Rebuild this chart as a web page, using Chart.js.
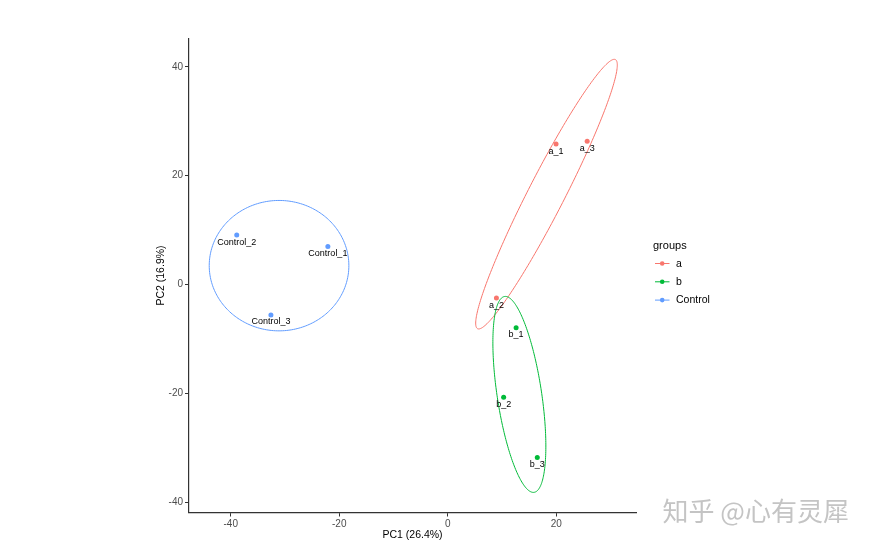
<!DOCTYPE html>
<html>
<head>
<meta charset="utf-8">
<script src="https://cdn.jsdelivr.net/npm/chart.js@4/dist/chart.umd.min.js"></script>
<style>
html,body{margin:0;padding:0;background:#fff;}
#wrap{width:871px;height:545px;}
</style>
</head>
<body>
<div id="wrap"><canvas id="c" width="871" height="545"></canvas></div>
<script>
// ---- data ----
const groups = ['a', 'b', 'Control'];
const groupColors = ['#F8766D', '#00BA38', '#619CFF'];
const sampleNames = ['a_1', 'a_2', 'a_3', 'b_1', 'b_2', 'b_3', 'Control_1', 'Control_2', 'Control_3'];
const sampleGroup = ['a', 'a', 'a', 'b', 'b', 'b', 'Control', 'Control', 'Control'];
const pc1 = [19.96, 8.97, 25.7, 12.6, 10.3, 16.5, -22.1, -38.9, -32.6];
const pc2 = [25.8, -2.5, 26.3, -7.97, -20.7, -31.8, 7.0, 9.07, -5.6];
// ellipse per group: centre, semi-axes, rotation (degrees) in data units
const ellCx = [18.2, 13.2, -31.1];
const ellCy = [16.6, -20.2, 3.46];
const ellA = [27.8, 18.2, 12.87];
const ellB = [3.35, 4.1, 11.98];
const ellAngle = [62.8, 98.6, 0];
const xTicks = [-40, -20, 0, 20];
const yTicks = [-40, -20, 0, 20, 40];
const xLabel = 'PC1 (26.4%)';
const yLabel = 'PC2 (16.9%)';
const legendTitle = 'groups';
const watermark = '知乎 @心有灵犀';

const FONT = "'Liberation Sans', Arial, sans-serif";

const datasets = groups.map((g, gi) => ({
  label: g,
  data: pc1.map((x, i) => ({x: x, y: pc2[i], name: sampleNames[i]})).filter((p, i) => sampleGroup[i] === g),
  backgroundColor: groupColors[gi],
  borderColor: groupColors[gi],
  pointRadius: 2.5,
  pointBorderWidth: 0,
  showLine: false
}));

const overlay = {
  id: 'overlay',
  beforeDatasetsDraw(chart) {
    const ctx = chart.ctx, xs = chart.scales.x, ys = chart.scales.y;
    ctx.save();
    groups.forEach((g, gi) => {
      const th = ellAngle[gi] * Math.PI / 180;
      ctx.beginPath();
      for (let k = 0; k <= 240; k++) {
        const t = k / 240 * 2 * Math.PI;
        const dx = ellA[gi] * Math.cos(t), dy = ellB[gi] * Math.sin(t);
        const x = ellCx[gi] + dx * Math.cos(th) - dy * Math.sin(th);
        const y = ellCy[gi] + dx * Math.sin(th) + dy * Math.cos(th);
        const px = xs.getPixelForValue(x), py = ys.getPixelForValue(y);
        if (k === 0) ctx.moveTo(px, py); else ctx.lineTo(px, py);
      }
      ctx.closePath();
      ctx.strokeStyle = groupColors[gi];
      ctx.lineWidth = 1;
      ctx.stroke();
    });
    ctx.restore();
  },
  afterDraw(chart) {
    const ctx = chart.ctx, xs = chart.scales.x, ys = chart.scales.y;
    ctx.save();
    // point labels
    ctx.font = '9px ' + FONT;
    ctx.fillStyle = '#000';
    ctx.textAlign = 'center';
    ctx.textBaseline = 'middle';
    sampleNames.forEach((n, i) => {
      ctx.fillText(n, xs.getPixelForValue(pc1[i]), ys.getPixelForValue(pc2[i]) + 7);
    });
    // legend
    ctx.textAlign = 'left';
    ctx.font = '11px ' + FONT;
    ctx.fillText(legendTitle, 653, 245.5);
    ctx.font = '10.5px ' + FONT;
    groups.forEach((g, gi) => {
      const y = 263.5 + gi * 18.3;
      ctx.strokeStyle = groupColors[gi];
      ctx.lineWidth = 1;
      ctx.beginPath(); ctx.moveTo(655, y); ctx.lineTo(669.5, y); ctx.stroke();
      ctx.fillStyle = groupColors[gi];
      ctx.beginPath(); ctx.arc(662.2, y, 2.3, 0, 2 * Math.PI); ctx.fill();
      ctx.fillStyle = '#000';
      ctx.fillText(g, 676, y + 0.5);
    });
    // watermark
    ctx.font = "26px 'Noto Sans CJK SC', sans-serif";
    ctx.textBaseline = 'middle';
    ctx.fillStyle = '#ffffff';
    ctx.fillText(watermark, 663.5, 512.5);
    ctx.fillStyle = '#c4c4c4';
    ctx.fillText(watermark, 662.5, 511.5);
    ctx.restore();
  }
};

new Chart(document.getElementById('c'), {
  type: 'scatter',
  data: {datasets: datasets},
  plugins: [overlay],
  options: {
    responsive: false,
    animation: false,
    events: [],
    layout: {padding: {left: 151, right: 235, top: 38.5, bottom: 0}},
    plugins: {legend: {display: false}, tooltip: {enabled: false}},
    scales: {
      x: {
        type: 'linear', min: -47.7, max: 34.7,
        afterFit(s) { s.height = 32.5; },
        afterBuildTicks(s) { s.ticks = xTicks.map(v => ({value: v})); },
        grid: {drawOnChartArea: false, drawTicks: true, tickLength: 4, color: '#333', lineWidth: 1},
        border: {color: '#333', width: 1.2},
        ticks: {color: '#4D4D4D', font: {size: 10, family: FONT}, padding: 2, maxRotation: 0},
        title: {display: true, text: xLabel, color: '#000', font: {size: 10.5, family: FONT}, padding: {top: 0, bottom: 4}}
      },
      y: {
        type: 'linear', min: -41.9, max: 45.2,
        afterFit(s) { s.width = 38; },
        afterBuildTicks(s) { s.ticks = yTicks.map(v => ({value: v})); },
        grid: {drawOnChartArea: false, drawTicks: true, tickLength: 4, color: '#333', lineWidth: 1},
        border: {color: '#333', width: 1.2},
        ticks: {color: '#4D4D4D', font: {size: 10, family: FONT}, padding: 2},
        title: {display: true, text: yLabel, color: '#000', font: {size: 10.5, family: FONT}, padding: {top: 4, bottom: 0}}
      }
    }
  }
});
</script>
</body>
</html>
